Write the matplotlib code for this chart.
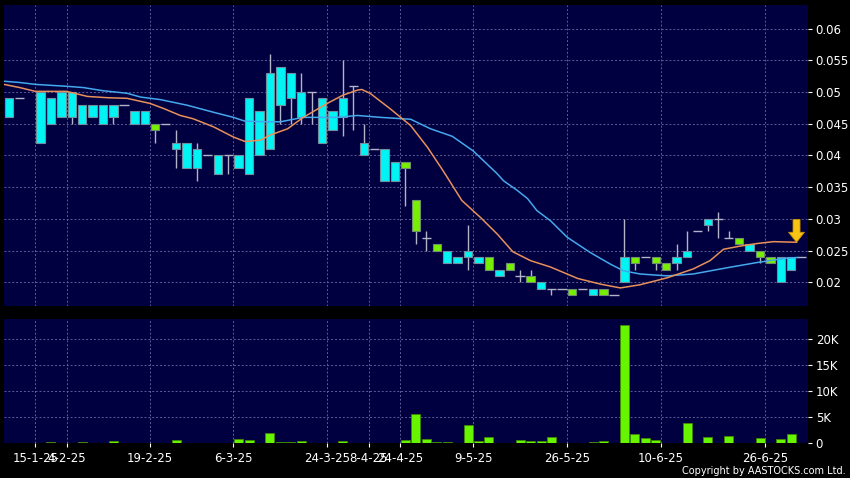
import numpy as np
import matplotlib
matplotlib.use('Agg')
import matplotlib.pyplot as plt

nan = np.nan

# daily candles (one slot per trading session shown)
opens = [0.049, 0.049, nan, 0.050, 0.049, 0.050, 0.050, 0.048, 0.048, 0.048,
         0.048, 0.048, 0.047, 0.047, 0.044, 0.045, 0.042, 0.042, 0.041, 0.040,
         0.040, 0.040, 0.040, 0.049, 0.047, 0.053, 0.054, 0.053, 0.050, 0.050,
         0.049, 0.047, 0.049, 0.051, 0.042, 0.041, 0.041, 0.039, 0.038, 0.028,
         0.027, 0.025, 0.025, 0.024, 0.025, 0.024, 0.022, 0.022, 0.022, 0.021,
         0.020, 0.020, 0.019, 0.019, 0.018, 0.019, 0.019, 0.018, 0.018, 0.024,
         0.023, 0.024, 0.023, 0.022, 0.024, 0.025, 0.028, 0.030, 0.030, 0.027,
         0.026, 0.026, 0.024, 0.023, 0.024, 0.024, 0.024]
highs = [0.049, 0.049, nan, 0.050, 0.049, 0.050, 0.050, 0.048, 0.048, 0.048,
         0.048, 0.048, 0.047, 0.047, 0.045, 0.045, 0.044, 0.042, 0.042, 0.040,
         0.040, 0.040, 0.040, 0.049, 0.047, 0.056, 0.054, 0.053, 0.053, 0.050,
         0.049, 0.047, 0.055, 0.051, 0.045, 0.041, 0.041, 0.039, 0.039, 0.033,
         0.028, 0.026, 0.025, 0.024, 0.029, 0.024, 0.024, 0.022, 0.023, 0.022,
         0.022, 0.020, 0.019, 0.019, 0.019, 0.019, 0.019, 0.019, 0.018, 0.030,
         0.024, 0.024, 0.024, 0.023, 0.026, 0.028, 0.028, 0.030, 0.031, 0.028,
         0.027, 0.026, 0.025, 0.024, 0.024, 0.024, 0.024]
lows = [0.046, 0.049, nan, 0.042, 0.045, 0.046, 0.045, 0.045, 0.046, 0.045,
        0.045, 0.048, 0.045, 0.045, 0.042, 0.045, 0.038, 0.038, 0.036, 0.040,
        0.037, 0.037, 0.038, 0.037, 0.040, 0.041, 0.045, 0.045, 0.045, 0.045,
        0.042, 0.044, 0.043, 0.044, 0.040, 0.041, 0.036, 0.036, 0.032, 0.026,
        0.025, 0.025, 0.023, 0.023, 0.022, 0.023, 0.022, 0.021, 0.022, 0.020,
        0.020, 0.019, 0.018, 0.019, 0.018, 0.019, 0.018, 0.018, 0.018, 0.020,
        0.022, 0.024, 0.022, 0.022, 0.022, 0.024, 0.028, 0.028, 0.027, 0.027,
        0.026, 0.025, 0.023, 0.023, 0.020, 0.022, 0.024]
closes = [0.046, 0.049, nan, 0.042, 0.045, 0.046, 0.046, 0.045, 0.046, 0.045,
          0.046, 0.048, 0.045, 0.045, 0.045, 0.045, 0.041, 0.038, 0.038, 0.040,
          0.037, 0.040, 0.038, 0.037, 0.040, 0.041, 0.048, 0.049, 0.046, 0.050,
          0.042, 0.044, 0.046, 0.051, 0.040, 0.041, 0.036, 0.036, 0.039, 0.033,
          0.027, 0.026, 0.023, 0.023, 0.024, 0.023, 0.024, 0.021, 0.023, 0.021,
          0.021, 0.019, 0.019, 0.019, 0.019, 0.019, 0.018, 0.019, 0.018, 0.020,
          0.024, 0.024, 0.024, 0.023, 0.023, 0.024, 0.028, 0.029, 0.030, 0.027,
          0.027, 0.025, 0.025, 0.024, 0.020, 0.022, 0.024]
volume = [50, 0, 0, 50, 200, 50, 100, 250, 50, 100,
          450, 0, 100, 100, 50, 0, 700, 50, 50, 0,
          50, 150, 750, 550, 100, 1900, 250, 250, 450, 100,
          150, 100, 450, 50, 50, 0, 150, 50, 650, 5700,
          750, 200, 200, 100, 3500, 450, 1200, 50, 50, 700,
          450, 350, 1200, 100, 50, 0, 200, 500, 50, 22800,
          1800, 1000, 600, 100, 100, 3850, 100, 1200, 100, 1350,
          150, 100, 950, 100, 900, 1850, 0]

# moving averages (slot, price)
ma10_x = [-0.5, 1.0, 2.5, 5.5, 7.5, 9.4, 11.3, 13.5, 14.8, 16.4, 17.6, 19.6, 21.5,
          22.6, 24.1, 25.0, 26.7, 28.2, 30.5, 32.0, 33.4, 33.8, 34.6, 36.5, 38.5,
          40.1, 41.6, 43.4, 45.2, 46.8, 48.3, 50.0, 51.9, 54.5, 56.7, 58.6, 60.5,
          63.1, 65.6, 67.2, 68.5, 70.1, 71.7, 73.3, 75.5]
ma10_y = [0.0512, 0.0507, 0.0501, 0.0501, 0.0493, 0.0491, 0.0490, 0.0482, 0.0474,
          0.0463, 0.0458, 0.0445, 0.0429, 0.0422, 0.0424, 0.0432, 0.0442, 0.0460,
          0.0482, 0.0495, 0.0503, 0.0504, 0.0498, 0.0474, 0.0447, 0.0413, 0.0376,
          0.0329, 0.0302, 0.0276, 0.0248, 0.0234, 0.0224, 0.0206, 0.0197, 0.0191,
          0.0196, 0.0207, 0.0221, 0.0234, 0.0252, 0.0257, 0.0261, 0.0264, 0.0263]
ma20_x = [-0.5, 1.0, 2.5, 5.5, 7.1, 9.0, 11.3, 12.6, 14.5, 17.1, 19.6, 21.5, 22.6,
          24.7, 26.0, 28.2, 31.4, 33.4, 35.6, 38.5, 40.4, 42.5, 44.5, 46.8, 47.4,
          48.7, 49.7, 50.6, 51.9, 53.5, 55.7, 57.6, 58.9, 60.5, 63.1, 65.6, 68.9,
          71.7, 73.3, 74.6, 75.6]
ma20_y = [0.0517, 0.0515, 0.0512, 0.0509, 0.0507, 0.0502, 0.0498, 0.0492, 0.0488,
          0.0479, 0.0468, 0.0460, 0.0454, 0.0453, 0.0453, 0.0460, 0.0460, 0.0463,
          0.0460, 0.0457, 0.0442, 0.0430, 0.0407, 0.0371, 0.0360, 0.0345, 0.0332,
          0.0313, 0.0297, 0.0271, 0.0247, 0.0229, 0.0218, 0.0213, 0.0210, 0.0213,
          0.0223, 0.0231, 0.0235, 0.0238, 0.0239]

tick_slots = [2, 5, 13, 21, 30, 34, 37, 44, 53, 62, 72]
tick_labels = ['15-1-25', '4-2-25', '19-2-25', '6-3-25', '24-3-25', '8-4-25',
               '24-4-25', '9-5-25', '26-5-25', '10-6-25', '26-6-25']
price_ticks = [0.02, 0.025, 0.03, 0.035, 0.04, 0.045, 0.05, 0.055, 0.06]
vol_ticks = [0, 5000, 10000, 15000, 20000]
vol_labels = ['0', '5K', '10K', '15K', '20K']

BG = '#000040'
GRID = '#5c5c96'
UP = '#76f000'
DOWN = '#00f4f4'
WICK = '#b4b4c8'

fig = plt.figure(figsize=(8.5, 4.78), dpi=100, facecolor='black')
ax = fig.add_axes([4/850, 1-306/478, 804/850, 301/478])
axv = fig.add_axes([4/850, 1-443.3/478, 804/850, 124.3/478])

o = np.array(opens); h = np.array(highs); l = np.array(lows); c = np.array(closes)
x = np.arange(len(o))

# wicks
ax.vlines(x, l, h, color=WICK, linewidth=1, zorder=2)
# bodies
body = np.abs(c - o)
up = c > o
down = c < o
doji = c == o
ax.bar(x[up], body[up], bottom=o[up], width=0.8, color=UP, edgecolor='#6f8f6f',
       linewidth=0.8, zorder=3)
ax.bar(x[down], body[down], bottom=c[down], width=0.8, color=DOWN, edgecolor='#6f8f9f',
       linewidth=0.8, zorder=3)
ax.hlines(o[doji], x[doji] - 0.45, x[doji] + 0.45, color=WICK, linewidth=1, zorder=3)

# moving averages
ax.plot(ma20_x, ma20_y, color='#44a8ec', linewidth=1.1, zorder=4)
ax.plot(ma10_x, ma10_y, color='#e8905a', linewidth=1.1, zorder=4)

# arrow on the last MA value
ax.annotate('', xy=(ma10_x[-1], ma10_y[-1]), xytext=(ma10_x[-1], ma10_y[-1] + 0.0036),
            arrowprops=dict(arrowstyle='simple,head_length=0.6,head_width=0.95,tail_width=0.42',
                            fc='#f8c414', ec='#c89000', lw=0.6, mutation_scale=12,
                            shrinkA=0, shrinkB=0), zorder=6)

# volume
axv.bar(x, volume, width=0.86, color='#66f400', edgecolor='#3f8a00', linewidth=0.6, zorder=3)

grid_x = [s + 0.5 for s in tick_slots]
for a in (ax, axv):
    a.set_facecolor(BG)
    a.set_xlim(-0.5, 76.6)
    for sp in a.spines.values():
        sp.set_visible(False)
    a.yaxis.tick_right()
    a.tick_params(axis='y', colors='white', labelcolor='white', length=3, width=0.8,
                  labelsize=8.5, pad=2.5)
    a.set_xticks(grid_x)
    a.grid(True, color=GRID, linestyle=(0, (2, 2)), linewidth=0.7, zorder=0)
    a.set_axisbelow(True)

ax.set_ylim(0.01625, 0.06372)
ax.set_yticks(price_ticks)
ax.set_yticklabels([f'{t:g}' for t in price_ticks])
ax.tick_params(axis='x', length=0, labelbottom=False)

axv.set_ylim(0, 23900)
axv.set_yticks(vol_ticks)
axv.set_yticklabels(vol_labels)
axv.set_xticklabels(tick_labels)
axv.tick_params(axis='x', colors='white', labelcolor='white', length=3, width=0.8,
                labelsize=8.5, pad=3.5)

fig.text(846/850, 1-471/478, 'Copyright by AASTOCKS.com Ltd.', color='white',
         fontsize=7, ha='right', va='center')

fig.savefig('out.png', dpi=100, facecolor='black')
